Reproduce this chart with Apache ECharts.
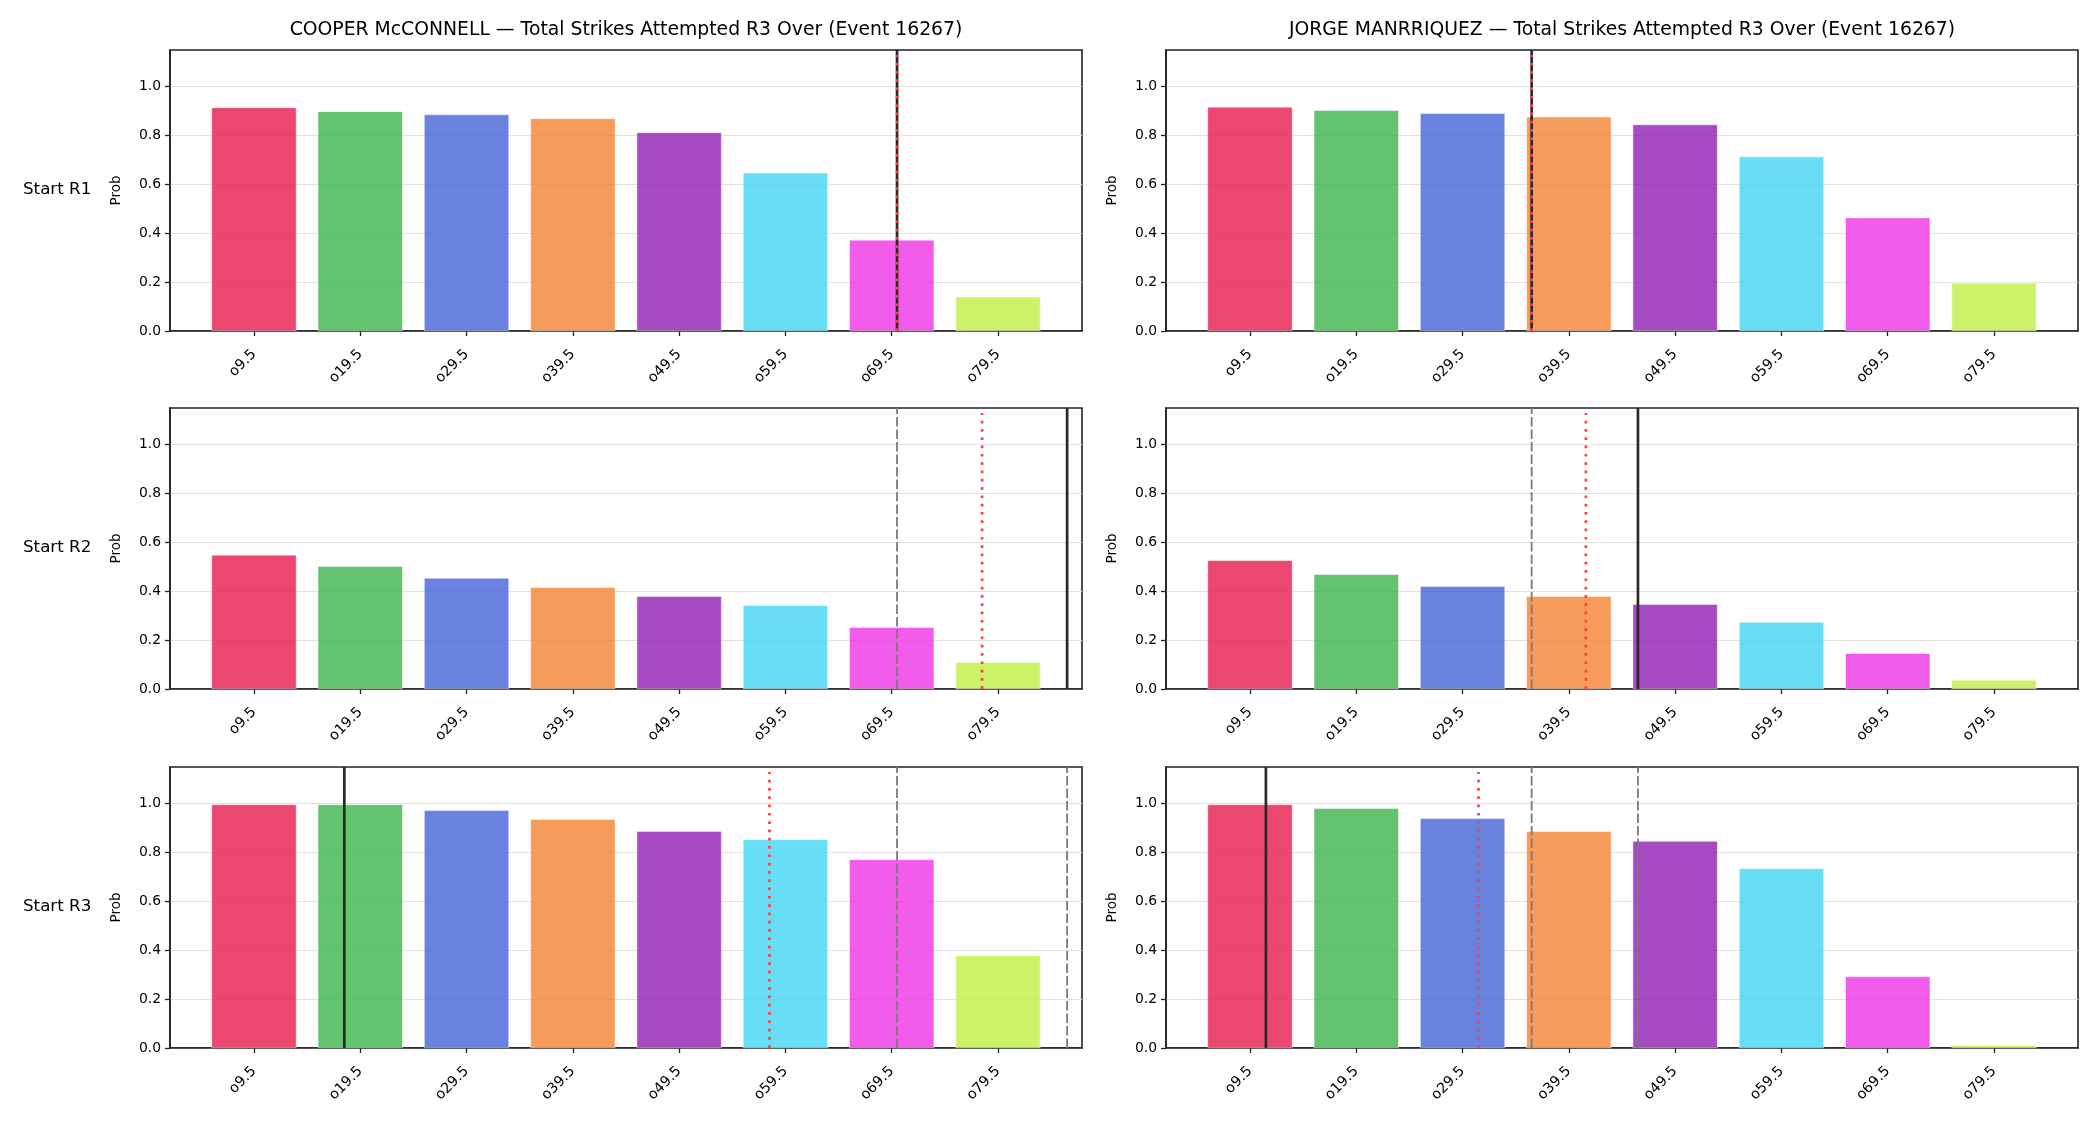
<!DOCTYPE html>
<html>
<head>
<meta charset="utf-8">
<script src="https://cdn.jsdelivr.net/npm/echarts@6/dist/echarts.min.js"></script>
<style>
  html, body { margin: 0; background: #fff; }
  #chart { width: 2100px; height: 1125px; }
</style>
</head>
<body>
<div id="chart"></div>
<script>
// data
const categories = ['o9.5', 'o19.5', 'o29.5', 'o39.5', 'o49.5', 'o59.5', 'o69.5', 'o79.5']
const thresholds = [9.5, 19.5, 29.5, 39.5, 49.5, 59.5, 69.5, 79.5]
const rowLabels = ['Start R1', 'Start R2', 'Start R3']
const fighters = ['COOPER McCONNELL', 'JORGE MANRRIQUEZ']
const titleSuffix = ' \u2014 Total Strikes Attempted R3 Over (Event 16267)'

const cooperR1 = [0.915, 0.899, 0.886, 0.870, 0.813, 0.648, 0.373, 0.140]
const cooperR2 = [0.549, 0.503, 0.454, 0.417, 0.380, 0.343, 0.253, 0.110]
const cooperR3 = [0.997, 0.997, 0.973, 0.936, 0.887, 0.854, 0.772, 0.379]
const jorgeR1 = [0.917, 0.904, 0.891, 0.877, 0.845, 0.714, 0.464, 0.197]
const jorgeR2 = [0.527, 0.470, 0.421, 0.380, 0.347, 0.274, 0.147, 0.037]
const jorgeR3 = [0.997, 0.981, 0.940, 0.887, 0.847, 0.735, 0.293, 0.011]

// vertical markers (strike counts): previous rounds (dashed), projection (dotted), actual (solid)
const cooperDashed = [[], [70], [70, 86]]
const cooperDotted = [70, 78, 58]
const cooperSolid = [70, 86, 18]
const jorgeDashed = [[], [36], [36, 46]]
const jorgeDotted = [36, 41.1, 31]
const jorgeSolid = [36, 46, 11]

const yTicks = [0, 0.2, 0.4, 0.6, 0.8, 1.0]

const palette = ['#e6194b', '#3cb44b', '#4363d8', '#f58231', '#911eb4', '#42d4f4', '#f032e6', '#bfef45']

// layout
const colLeft = [170, 1166]
const colWidth = 912
const rowTop = [50, 408, 767]
const rowHeight = 281
const X_MIN = 1.6, X_MAX = 87.4, Y_MAX = 1.15
const FONT = 'DejaVu Sans'

const panelValues = [[cooperR1, jorgeR1], [cooperR2, jorgeR2], [cooperR3, jorgeR3]]
const panelDashed = [cooperDashed, jorgeDashed]
const panelDotted = [cooperDotted, jorgeDotted]
const panelSolid = [cooperSolid, jorgeSolid]

const barWidth = colWidth * 8 / (X_MAX - X_MIN)

let grids = [], xAxes = [], yAxes = [], series = [], graphics = []

function vline(idx, x, style, z, top) {
  return {
    type: 'line', xAxisIndex: idx, yAxisIndex: idx, silent: true, z: z,
    symbol: 'none', data: [[x, 0], [x, top]], lineStyle: style
  }
}

for (let r = 0; r < 3; r++) {
  for (let c = 0; c < 2; c++) {
    const idx = r * 2 + c
    grids.push({
      left: colLeft[c], top: rowTop[r], width: colWidth, height: rowHeight,
      show: true, borderColor: '#222', borderWidth: 1.6, backgroundColor: 'transparent'
    })
    xAxes.push({
      type: 'value', gridIndex: idx, min: X_MIN, max: X_MAX,
      axisLine: { show: true, lineStyle: { color: '#222', width: 1.6 } },
      axisTick: { show: true, length: 5, customValues: thresholds, lineStyle: { color: '#222', width: 1.3 } },
      axisLabel: {
        show: true, customValues: thresholds, rotate: 45, margin: 21,
        fontFamily: FONT, fontSize: 14.3, color: '#000',
        formatter: v => categories[thresholds.indexOf(v)] || ''
      },
      splitLine: { show: false }
    })
    yAxes.push({
      type: 'value', gridIndex: idx, min: 0, max: Y_MAX, interval: 0.2,
      axisLine: { show: true, lineStyle: { color: '#222', width: 1.6 } },
      axisTick: { show: true, length: 5, customValues: yTicks, lineStyle: { color: '#222', width: 1.3 } },
      axisLabel: {
        show: true, customValues: yTicks, margin: 9,
        fontFamily: FONT, fontSize: 13.9, color: '#000',
        formatter: v => v.toFixed(1)
      },
      splitLine: { show: true, lineStyle: { color: '#e2e2e2', width: 1 } }
    })

    const vals = panelValues[r][c]
    series.push({
      type: 'bar', xAxisIndex: idx, yAxisIndex: idx, barWidth: barWidth, z: 2,
      data: thresholds.map((t, i) => ({
        value: [t, vals[i]],
        itemStyle: { color: palette[i], opacity: 0.8, borderColor: '#fff', borderWidth: 0.6 }
      }))
    })

    panelDashed[c][r].forEach(x => {
      series.push(vline(idx, x, { color: '#7a7a7a', width: 1.8, type: [9.5, 3] }, 3, Y_MAX))
    })
    series.push(vline(idx, panelSolid[c][r], { color: '#2a2a2a', width: 2.7, type: 'solid' }, 4, Y_MAX))
    series.push(vline(idx, panelDotted[c][r], { color: '#ff4040', width: 2.7, type: [2.7, 5.6] }, 5, 1.13))

    // "Prob" axis label
    graphics.push({
      type: 'text', x: colLeft[c] - 54, y: rowTop[r] + rowHeight / 2, rotation: Math.PI / 2,
      style: { text: 'Prob', fontFamily: FONT, fontSize: 13.5, fill: '#000', align: 'center', verticalAlign: 'middle' }
    })
  }
  graphics.push({
    type: 'text', x: 23, y: rowTop[r] + rowHeight / 2 - 1,
    style: { text: rowLabels[r], fontFamily: FONT, fontSize: 16.7, fill: '#000', align: 'left', verticalAlign: 'middle' }
  })
}

fighters.forEach((name, c) => {
  graphics.push({
    type: 'text', x: colLeft[c] + colWidth / 2, y: 30,
    style: { text: name + titleSuffix, fontFamily: FONT, fontSize: 18.8, fill: '#000', align: 'center', verticalAlign: 'middle' }
  })
})

const myChart = echarts.init(document.getElementById('chart'))
myChart.setOption({
  animation: false,
  backgroundColor: '#fff',
  grid: grids,
  xAxis: xAxes,
  yAxis: yAxes,
  series: series,
  graphic: graphics
})
</script>
</body>
</html>
